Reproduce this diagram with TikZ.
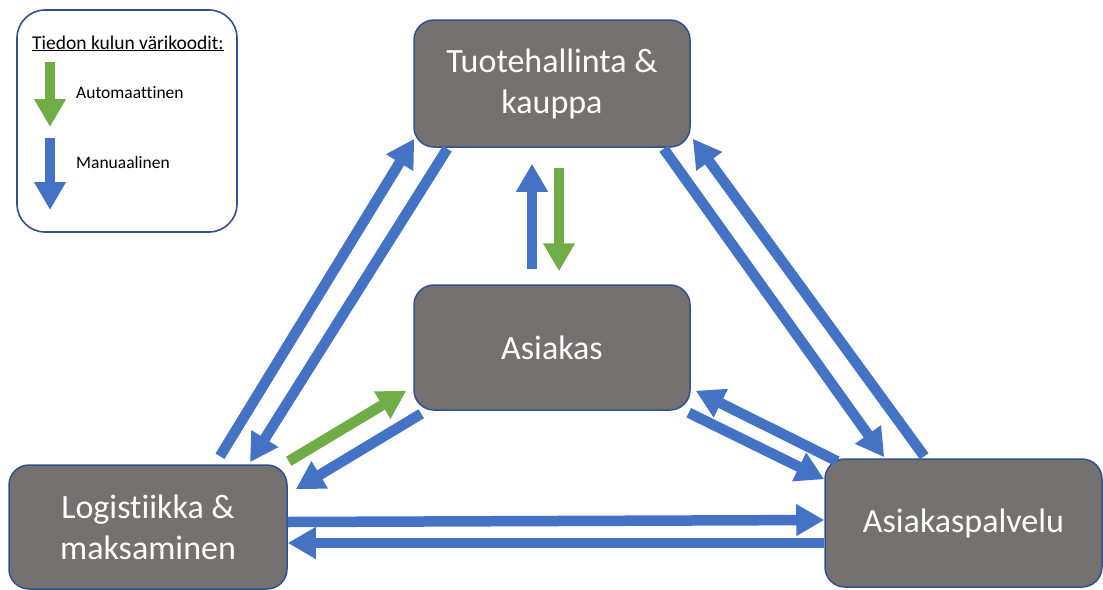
\documentclass[tikz,border=0pt]{standalone}
\usepackage{fontspec}
\setmainfont{Carlito}[Ligatures={NoCommon,NoContextual}]
\usetikzlibrary{arrows.meta,calc}
\definecolor{flowblue}{HTML}{4472C4}
\definecolor{flowgreen}{HTML}{70AD47}
\definecolor{edgeblue}{HTML}{2F528F}
\definecolor{boxgray}{HTML}{767171}

\begin{document}
\begin{tikzpicture}[x=1pt,y=-1pt,
  unit/.style={draw=edgeblue, line width=1.5pt, fill=boxgray, rounded corners=20pt,
    text=white, align=center, font=\fontsize{34}{41}\selectfont, inner sep=0pt},
  flowtip/.style={-{Triangle[length=28pt,width=30pt]}},
  manualflow/.style={draw=flowblue, line width=10.5pt, flowtip},
  autoflow/.style={draw=flowgreen, line width=10.5pt, flowtip},
  legendtext/.style={anchor=base west, inner sep=0pt, font=\fontsize{17.5}{21}\selectfont}
]
\useasboundingbox (0,0) rectangle (1103,589);
\fill[white] (0,0) rectangle (1103,589);

% legend
\node[draw=edgeblue, line width=1.6pt, rounded corners=28pt, minimum width=220pt,
      minimum height=222pt, inner sep=0pt] (legend) at (127,121) {};
\node[anchor=base west, inner sep=0pt, font=\fontsize{19.5}{23}\selectfont] (legtitle)
  at (32,49) {\underline{Tiedon kulun värikoodit:}};
\coordinate (ga) at (50,62);
\coordinate (gb) at (50,127);
\coordinate (ba) at (50,138);
\coordinate (bb) at (50,210);
\draw[autoflow] (ga) -- (gb);
\draw[manualflow] (ba) -- (bb);
\node[legendtext] (legauto) at (76,98) {Automaattinen};
\node[legendtext] (legman) at (76,168) {Manuaalinen};

% units
\node[unit, minimum width=276pt, minimum height=127pt] (tuote) at (552,83.5)
  {Tuotehallinta \&\\kauppa};
\node[unit, minimum width=276pt, minimum height=125pt] (asiakas) at (552,347.5)
  {Asiakas};
\node[unit, minimum width=278pt, minimum height=124pt] (logi) at (148,527)
  {Logistiikka \&\\maksaminen};
\node[unit, minimum width=277pt, minimum height=128pt] (palvelu) at (963.5,523)
  {\raisebox{-3pt}{Asiakaspalvelu}};

% flows
\draw[manualflow] ($(logi.north)+(72,-8)$) -- ($(tuote.south west)+(1,-9)$);
\draw[manualflow] ($(tuote.south west)+(34,1)$) -- ($(logi.north)+(102,-2)$);
\draw[manualflow] ($(asiakas.north)+(-20,-15)$) -- ($(tuote.south)+(-20,16)$);
\draw[autoflow] ($(tuote.south)+(7,20)$) -- ($(asiakas.north)+(7,-13)$);
\draw[autoflow] ($(logi.north east)+(1,-3)$) -- ($(asiakas.south west)+(-7,-20)$);
\draw[manualflow] ($(asiakas.south west)+(8,3)$) -- ($(logi.north east)+(8,25)$);
\draw[manualflow] ($(palvelu.north west)+(13,3)$) -- ($(asiakas.south east)+(5,-20)$);
\draw[manualflow] ($(asiakas.south east)+(-2,2)$) -- ($(palvelu.north west)+(0,21)$);
\draw[manualflow] ($(tuote.south east)+(-27,1)$) -- ($(palvelu.north west)+(60,-1)$);
\draw[manualflow] ($(palvelu.north west)+(100,-2)$) -- ($(tuote.south east)+(2,-9)$);
\draw[manualflow] ($(logi.east)+(0,-5)$) -- ($(palvelu.west)+(0,-3)$);
\draw[manualflow] ($(palvelu.west)+(0,20)$) -- ($(logi.east)+(0,16)$);
\end{tikzpicture}
\end{document}
